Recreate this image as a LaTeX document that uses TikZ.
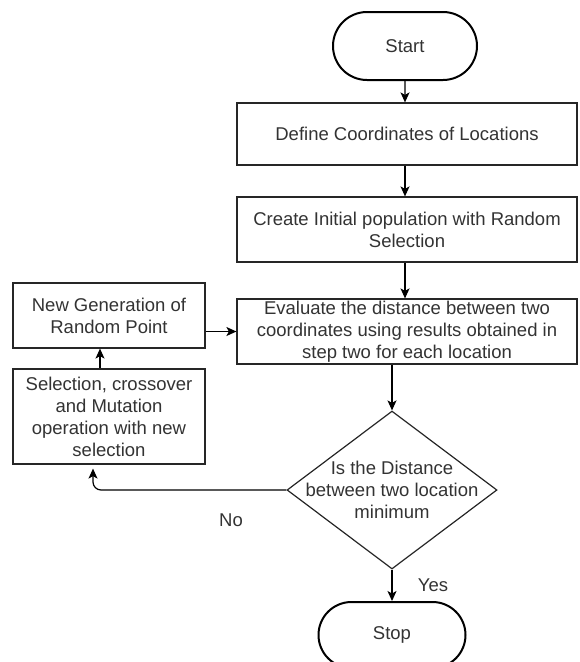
\documentclass[tikz,border=0pt]{standalone}
\usepackage{fontspec}
\setmainfont{Liberation Sans}
\usetikzlibrary{shapes.misc,shapes.geometric,arrows.meta}
\begin{document}
\begin{tikzpicture}[x=1pt,y=-1pt,
  font=\fontsize{18.5}{22}\selectfont,
  txt/.style={text=black!80, align=center, inner sep=0pt},
  procbox/.style={draw=black!85, line width=1.2pt, rectangle, text=black!80, align=center, inner sep=0pt},
  term/.style={draw=black, line width=2pt, rounded rectangle, text=black!80, inner sep=0pt},
  decision/.style={draw=black!85, line width=1.2pt, diamond, inner sep=0pt},
  arr/.style={draw=black, line width=1.2pt, -{Stealth[length=10pt,width=9pt,inset=2.5pt]}}
]
\useasboundingbox[fill=white] (0,0) rectangle (579,662);

% main column
\node[term, minimum width=144pt, minimum height=68pt] (start) at (405,46) {Start};
\node[procbox, minimum width=340pt, minimum height=62pt] (define) at (407,134) {Define Coordinates of Locations};
\node[procbox, minimum width=340pt, minimum height=65pt] (create) at (407,229.5) {Create Initial population with Random\\Selection};
\node[procbox, minimum width=340pt, minimum height=65pt] (evaluate) at (407,331.5) {Evaluate the distance between two\\coordinates using results obtained in\\step two for each location};
\node[decision, minimum width=210pt, minimum height=158pt] (decide) at (392,490) {};
\node[txt] (decidetext) at (decide.center) {Is the Distance\\between two location\\minimum};
\node[term, minimum width=147pt, minimum height=66pt] (stop) at (392,635) {Stop};

% loop-back column
\node[procbox, minimum width=192pt, minimum height=65pt] (newgen) at (109,315.5) {New Generation of\\Random Point};
\node[procbox, minimum width=192pt, minimum height=95pt] (select) at (109,416.5) {Selection, crossover\\and Mutation\\operation with new\\selection};

% branch labels
\node[txt] (no) at (231,520) {No};
\node[txt] (yes) at (433,585) {Yes};

% connectors
\draw[arr] (start) -- (start |- define.north);
\draw[arr] (define.south -| start) -- (create.north -| start);
\draw[arr] (create.south -| start) -- (evaluate.north -| start);
\draw[arr] (evaluate.south -| decide) -- (decide.north);
\draw[arr] (decide.south) -- (stop.north);
\draw[arr] (newgen.east |- evaluate.west) -- (evaluate.west);
\draw[arr] ([xshift=-9pt]select.north) -- ([xshift=-9pt]newgen.south);
\draw[arr, rounded corners=8pt] (decide.west) -| ([xshift=-16pt,yshift=-4pt]select.south);
\end{tikzpicture}
\end{document}
